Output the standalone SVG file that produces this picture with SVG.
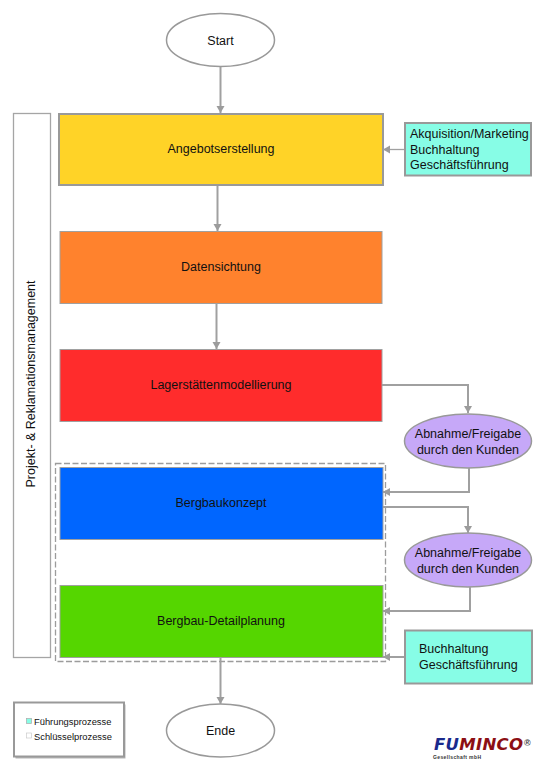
<svg xmlns="http://www.w3.org/2000/svg" width="545" height="771" viewBox="0 0 545 771">
<style>
text{font-family:"Liberation Sans",Arial,sans-serif;font-size:12.5px;fill:#111;text-anchor:middle}
.l{text-anchor:start}
.e{fill:#fff;stroke:#999;stroke-width:1.5}
.p{fill:#c6a8f8;stroke:#999;stroke-width:1.5}
.c{fill:#87fde6;stroke:#999;stroke-width:2}
.b{stroke:#a0a0a0;stroke-width:1}
.w{fill:none;stroke:#a0a0a0;stroke-width:2}
</style>
<defs>
<marker id="a" markerUnits="userSpaceOnUse" markerWidth="10" markerHeight="10" refX="7" refY="4" orient="auto"><path d="M0 0L7 4L0 8Z" fill="#9c9c9c"/></marker>
</defs>
<rect width="545" height="771" fill="#fff"/>
<g id="projekt">
<rect x="13.500" y="113.500" width="37" height="544" fill="#fff" stroke="#a5a5a5" stroke-width="1.300"/>
<text transform="translate(34.500 384) rotate(-90)">Projekt- &amp; Reklamationsmanagement</text>
</g>
<g id="gruppe"><rect x="55.500" y="463.500" width="330" height="198" fill="none" stroke="#9c9c9c" stroke-width="1.300" stroke-dasharray="6 2.500"/></g>
<g id="start"><ellipse cx="220.500" cy="40" rx="54" ry="26.500" class="e"/><text x="220.500" y="45">Start</text></g>
<g id="angebot"><rect x="59" y="114" width="324" height="71" fill="#ffd327" stroke="#999" stroke-width="2"/><text x="221" y="153">Angebotserstellung</text></g>
<g id="daten"><rect x="60" y="231.500" width="322" height="72" fill="#ff822d" class="b"/><text x="221" y="271">Datensichtung</text></g>
<g id="lager"><rect x="60" y="349.500" width="322" height="72" fill="#ff2c2c" class="b"/><text x="221" y="389">Lagerstättenmodellierung</text></g>
<g id="konzept"><rect x="60" y="467.500" width="323" height="72" fill="#0066ff" class="b"/><text x="221" y="507">Bergbaukonzept</text></g>
<g id="detail"><rect x="60" y="585.500" width="323" height="72" fill="#55d600" class="b"/><text x="221" y="625">Bergbau-Detailplanung</text></g>
<g id="akquisition"><rect x="405" y="123" width="126" height="52.500" class="c"/><text class="l" x="410" y="138">Akquisition/Marketing</text><text class="l" x="410" y="153.500">Buchhaltung</text><text class="l" x="410" y="169">Geschäftsführung</text></g>
<g id="abnahme1"><ellipse cx="468" cy="441" rx="63.500" ry="27" class="p"/><text x="468" y="438">Abnahme/Freigabe</text><text x="468" y="454">durch den Kunden</text></g>
<g id="abnahme2"><ellipse cx="468" cy="560" rx="63.500" ry="27" class="p"/><text x="468" y="557">Abnahme/Freigabe</text><text x="468" y="573">durch den Kunden</text></g>
<g id="buchhaltung"><rect x="405" y="630.500" width="127" height="53" class="c"/><text class="l" x="419" y="653">Buchhaltung</text><text class="l" x="419" y="668.500">Geschäftsführung</text></g>
<g id="ende"><ellipse cx="220.500" cy="730.500" rx="54" ry="26.500" class="e"/><text x="220.500" y="735">Ende</text></g>
<g id="connectors">
<path class="w" marker-end="url(#a)" d="M220.500 67V113"/>
<path class="w" marker-end="url(#a)" d="M217.500 186V231"/>
<path class="w" marker-end="url(#a)" d="M216.500 304V349"/>
<path class="w" style="stroke-width:1.300" marker-end="url(#a)" d="M404 149.500H383"/>
<path class="w" marker-end="url(#a)" d="M382 385H468V413"/>
<path class="w" marker-end="url(#a)" d="M469 468V492H383"/>
<path class="w" marker-end="url(#a)" d="M383 507H468V533"/>
<path class="w" marker-end="url(#a)" d="M470 587V611H383"/>
<path class="w" marker-end="url(#a)" d="M404 657H383"/>
<path class="w" marker-end="url(#a)" d="M220.500 658V704"/>
</g>
<g id="legende">
<rect x="15.500" y="704.500" width="110" height="54" fill="#999" opacity=".7"/>
<rect x="14" y="702.500" width="110" height="54" fill="#fff" stroke="#999" stroke-width="2"/>
<rect x="26.500" y="718.500" width="5" height="5" fill="#87fde6" stroke="#aaa" stroke-width=".7"/>
<text class="l" x="34" y="725" style="font-size:9.350px">Führungsprozesse</text>
<rect x="26.500" y="733" width="5" height="5" fill="#fff" stroke="#ccc" stroke-width=".7"/>
<text class="l" x="34" y="739.500" style="font-size:9.350px">Schlüsselprozesse</text>
</g>
<g id="logo">
<text class="l" x="434" y="749.500" textLength="89" style="font-family:'DejaVu Sans',sans-serif;font-size:16.500px;font-weight:bold;font-style:italic"><tspan fill="#1a2a8c">FU</tspan><tspan fill="#8c0f14">MINCO</tspan></text>
<text class="l" x="524" y="746" style="font-size:9px;font-weight:bold;fill:#444">®</text>
<text class="l" x="433" y="758.500" textLength="48" style="font-size:5px;font-weight:bold;fill:#333">Gesellschaft mbH</text>
</g>
</svg>
